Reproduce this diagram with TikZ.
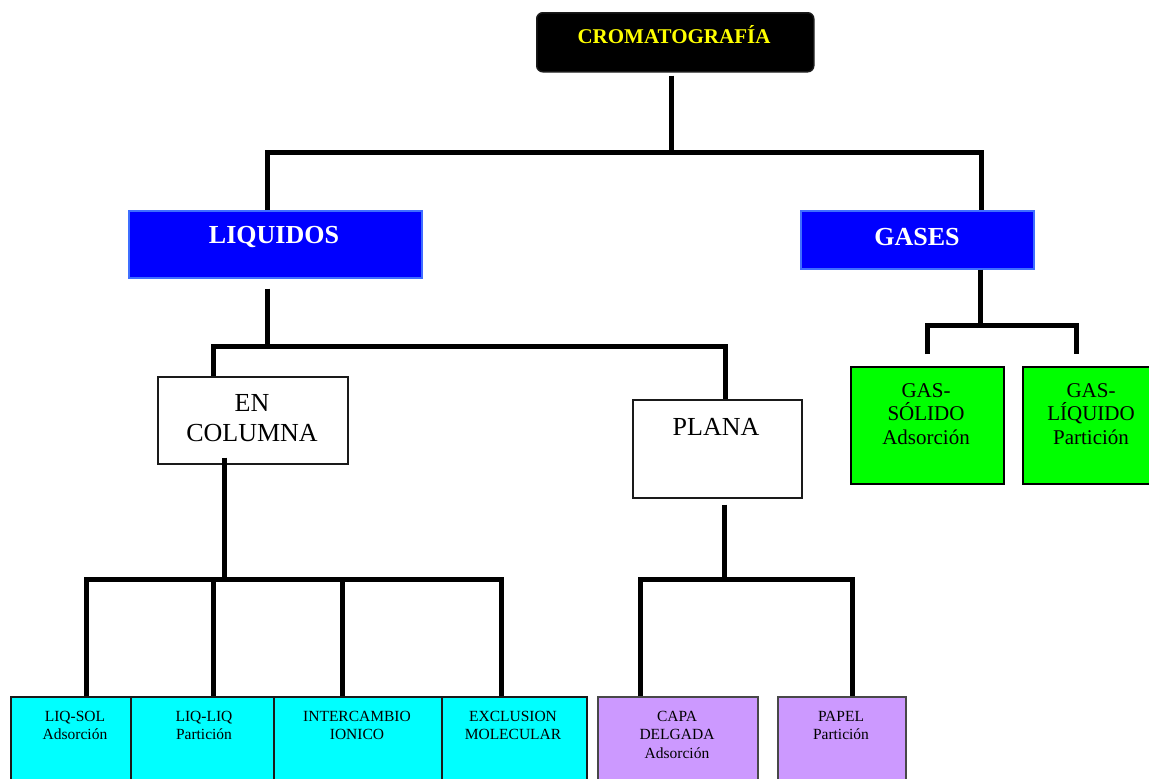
\documentclass[tikz,border=0pt]{standalone}
\usepackage{fontspec}
\setmainfont{Liberation Serif}
\usetikzlibrary{calc}
\definecolor{cblue}{HTML}{0000FF}
\definecolor{cblueb}{HTML}{3F6FFF}
\definecolor{ccyan}{HTML}{00FFFF}
\definecolor{cpurple}{HTML}{CC99FF}
\definecolor{cgreen}{HTML}{00FF00}
\definecolor{cyel}{HTML}{FFFF00}
\definecolor{cedge}{HTML}{1A1A1A}
\begin{document}
\begin{tikzpicture}[x=1pt,y=-1pt,
  conn/.style={line width=5pt, line cap=butt, line join=miter, black},
  box/.style={draw=cedge, line width=1.5pt, anchor=north west, inner sep=0pt},
  bluebox/.style={box, draw=cblueb, fill=cblue},
  titletext/.style={font=\fontsize{26}{30}\selectfont\bfseries, text=white, anchor=base, inner sep=0pt},
  midtext/.style={font=\fontsize{26}{30}\selectfont, align=center, inner sep=0pt},
  gtext/.style={font=\fontsize{21}{23.5}\selectfont, align=center, anchor=north, inner sep=0pt},
  btext/.style={font=\fontsize{15.5}{18.5}\selectfont, align=center, anchor=north, inner sep=0pt}]
\clip (0,0) rectangle (1149,779);
\fill[white] (0,0) rectangle (1149,779);

% boxes
\node[box, fill=black, rounded corners=6pt, minimum width=277pt, minimum height=59pt] (crom) at (536,12) {};
\node[bluebox, minimum width=293pt, minimum height=67pt] (liq) at (128,210) {};
\node[bluebox, minimum width=233pt, minimum height=58pt] (gas) at (800,210) {};
\node[box, fill=white, minimum width=190pt, minimum height=87pt] (col) at (157,376) {};
\node[box, fill=white, minimum width=169pt, minimum height=98pt] (pla) at (632,399) {};
\node[box, fill=cgreen, draw=black, minimum width=153pt, minimum height=117pt] (gs) at (850,366) {};
\node[box, fill=cgreen, draw=black, minimum width=138pt, minimum height=117pt] (gl) at (1022,366) {};
\node[box, fill=ccyan, minimum width=120pt, minimum height=110pt] (b1) at (10,696) {};
\node[box, fill=ccyan, minimum width=143pt, minimum height=110pt] (b2) at (130,696) {};
\node[box, fill=ccyan, minimum width=168pt, minimum height=110pt] (b3) at (273,696) {};
\node[box, fill=ccyan, minimum width=145pt, minimum height=110pt] (b4) at (441,696) {};
\node[box, fill=cpurple, draw=cedge!80, minimum width=160pt, minimum height=110pt] (b5) at (597,696) {};
\node[box, fill=cpurple, draw=cedge!80, minimum width=128pt, minimum height=110pt] (b6) at (777,696) {};

% texts
\node[font=\fontsize{21}{25}\selectfont\bfseries, text=cyel, anchor=base, inner sep=0pt] (cromT) at (674,43) {CROMATOGRAFÍA};
\node[titletext] (liqT) at (274,243.6) {LIQUIDOS};
\node[titletext] (gasT) at (917,245.6) {GASES};
\node[midtext, anchor=north] (colT) at (252,394.4) {EN\\COLUMNA};
\node[midtext, anchor=base] (plaT) at (716,435.6) {PLANA};
\node[gtext] (gsT) at (926,383) {GAS-\\SÓLIDO\\Adsorción};
\node[gtext] (glT) at (1091,383) {GAS-\\LÍQUIDO\\Partición};
\node[btext] (b1T) at (75,711) {LIQ-SOL\\Adsorción};
\node[btext] (b2T) at (204,711) {LIQ-LIQ\\Partición};
\node[btext] (b3T) at (357,711) {INTERCAMBIO\\IONICO};
\node[btext] (b4T) at (513,711) {EXCLUSION\\MOLECULAR};
\node[btext] (b5T) at (677,711) {CAPA\\DELGADA\\Adsorción};
\node[btext] (b6T) at (841,711) {PAPEL\\Partición};

% connectors
\draw[conn] ($(crom.south -| 671,0)+(0,3)$) -- (671,152);
\draw[conn] (liq.north -| 267,0) |- (981,152) -- (gas.north -| 981,0);

\draw[conn] ($(liq.south -| 267,0)+(0,10)$) -- (267,346);
\draw[conn] (col.north -| 213,0) |- (725,346) -- (pla.north -| 725,0);

\draw[conn] (gas.south -| 980,0) -- (980,325);
\draw[conn] ($(gs.north -| 927,0)+(0,-12)$) |- (1076,325) -- ($(gl.north -| 1076,0)+(0,-12)$);

\draw[conn] ($(col.south -| 224,0)+(0,-7)$) -- (224,577);
\draw[conn] (b1.north -| 86,0) |- (501,579) -- (b4.north -| 501,0);
\draw[conn] (b2.north -| 213,0) -- (213,579);
\draw[conn] (b3.north -| 342,0) -- (342,579);

\draw[conn] ($(pla.south -| 724,0)+(0,6)$) -- (724,577);
\draw[conn] (b5.north -| 640,0) |- (852,579) -- (b6.north -| 852,0);
\end{tikzpicture}
\end{document}
